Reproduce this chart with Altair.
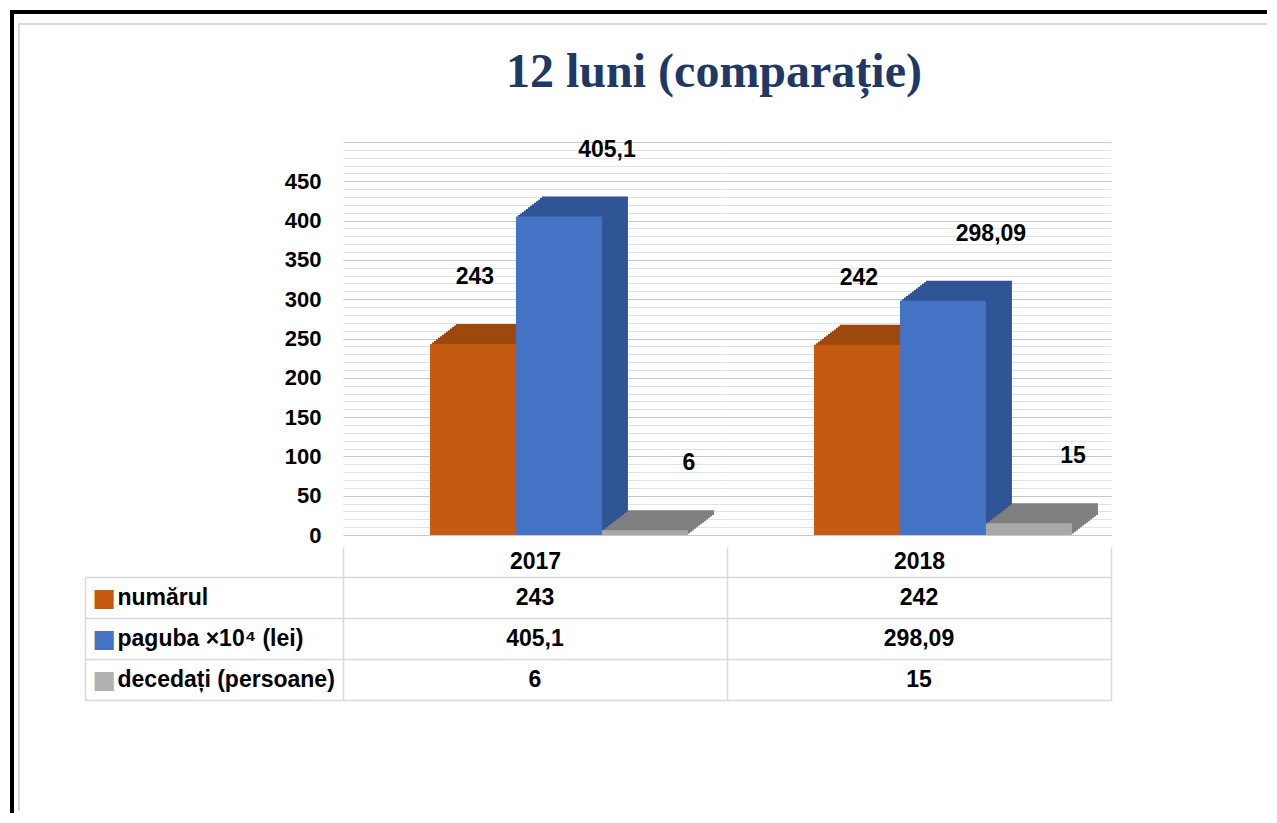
import altair as alt
import pandas as pd

# ---------------- data ----------------
years = ["2017", "2018"]
series = ["numărul", "paguba ×10⁴ (lei)", "decedați (persoane)"]
numarul = [243, 242]
paguba = [405.1, 298.09]
decedati = [6, 15]
title_text = "12 luni (comparație)"

# ---------------- styles ----------------
FONT = "Liberation Sans"
GRID = "#D9D9D9"
front_colors = ["#C55A11", "#4472C4", "#A8A8A8"]
depth_colors = ["#9C480E", "#2F5597", "#7F7F7F"]
legend_colors = ["#C55A11", "#4472C4", "#B0B0B0"]
label_dx = [2, 48, 44]
N_STEPS = 13
STEP_X = 2.0
STEP_Y = 1.54


def fmt(v):
    return f"{v:g}".replace(".", ",")


rows = []
for s, vals in zip(series, [numarul, paguba, decedati]):
    for yr, v in zip(years, vals):
        rows.append({"year": yr, "series": s, "value": v, "label": fmt(v)})
df = pd.DataFrame(rows)

# ---------------- bar chart (faceted by year) ----------------
X = alt.X(
    "series:N",
    sort=series,
    scale=alt.Scale(domain=series, paddingInner=0, paddingOuter=0.733, align=0.69),
    axis=None,
)
yaxis = alt.Axis(
    values=list(range(0, 501, 10)),
    labelExpr="(datum.value % 50 === 0 && datum.value <= 450) ? datum.label : ''",
    labelOverlap=False,
    grid=True,
    gridColor={"condition": {"test": "datum.value % 50 === 0", "value": "#C8C8C8"}, "value": "#E2E2E2"},
    gridWidth=1,
    ticks=False,
    domain=False,
    labelFont=FONT,
    labelFontSize=22,
    labelFontWeight="bold",
    labelColor="black",
    labelPadding=22,
    minExtent=323,
    maxExtent=323,
    title=None,
)
Y = alt.Y("value:Q", scale=alt.Scale(domain=[0, 500], nice=False, zero=True), axis=yaxis)

layers = []
for i, s in enumerate(series):
    flt = alt.datum.series == s
    for k in range(N_STEPS, 0, -1):
        layers.append(
            alt.Chart()
            .mark_bar(
                color=depth_colors[i],
                xOffset=k * STEP_X,
                x2Offset=k * STEP_X,
                yOffset=-k * STEP_Y,
                y2Offset=-k * STEP_Y,
            )
            .encode(x=X, y=Y)
            .transform_filter(flt)
        )
    layers.append(
        alt.Chart().mark_bar(color=front_colors[i]).encode(x=X, y=Y).transform_filter(flt)
    )
for i, s in enumerate(series):
    layers.append(
        alt.Chart()
        .mark_text(font=FONT, fontSize=23, fontWeight="bold", color="black", dx=label_dx[i], dy=-67)
        .encode(x=X, y=Y, text="label:N")
        .transform_filter(alt.datum.series == s)
    )

bars = (
    alt.layer(*layers)
    .properties(width=384, height=393)
    .facet(column=alt.Column("year:N", sort=years, header=None), data=df, spacing=0)
)

# ---------------- data table ----------------
xaxis_top = alt.Axis(
    orient="top",
    tickBand="extent",
    tickSize=30,
    tickColor=GRID,
    tickWidth=1.5,
    domain=False,
    grid=True,
    gridColor=GRID,
    gridWidth=1.5,
    labelFont=FONT,
    labelFontSize=23,
    labelFontWeight="bold",
    labelColor="black",
    labelAngle=0,
    labelPadding=-14,
    labelBaseline="middle",
    maxExtent=30,
    title=None,
)
XT = alt.X("year:N", sort=years, scale=alt.Scale(domain=years, paddingInner=0, paddingOuter=0), axis=xaxis_top)

yaxis1 = alt.Axis(
    orient="left",
    tickBand="extent",
    tickSize=258,
    tickColor=GRID,
    tickWidth=1.5,
    domain=False,
    grid=True,
    gridColor=GRID,
    gridWidth=1.5,
    labelFont=FONT,
    labelFontSize=23,
    labelFontWeight="bold",
    labelColor="black",
    labelAlign="left",
    labelBaseline="middle",
    labelPadding=-32,
    labelLimit=400,
    minExtent=323,
    maxExtent=323,
    title=None,
)
yaxis2 = alt.Axis(
    orient="left",
    offset=258,
    domain=True,
    domainColor=GRID,
    domainWidth=1.5,
    ticks=False,
    grid=False,
    labelExpr="'■'",
    labelFont="DejaVu Sans",
    labelFontSize=25,
    labelColor={
        "condition": [
            {"test": f"datum.value === '{series[0]}'", "value": legend_colors[0]},
            {"test": f"datum.value === '{series[1]}'", "value": legend_colors[1]},
        ],
        "value": legend_colors[2],
    },
    labelAlign="left",
    labelBaseline="middle",
    labelPadding=-7,
    maxExtent=60,
    title=None,
)
YSC = alt.Scale(domain=series, paddingInner=0, paddingOuter=0)
t1 = (
    alt.Chart()
    .mark_text(font=FONT, fontSize=23, fontWeight="bold", color="black")
    .encode(x=XT, y=alt.Y("series:N", sort=series, scale=YSC, axis=yaxis1), text="label:N")
)
t2 = (
    alt.Chart()
    .mark_text(font=FONT, fontSize=23, opacity=0)
    .encode(x=XT, y=alt.Y("series:N", sort=series, scale=YSC, axis=yaxis2), text="label:N")
)
table = (
    alt.layer(t1, t2, data=df)
    .resolve_scale(y="independent")
    .resolve_axis(y="independent")
    .properties(width=768, height=123)
)

# ---------------- title (as its own row) ----------------
title_chart = (
    alt.Chart(pd.DataFrame({"t": [title_text]}))
    .mark_text(font="Liberation Serif", fontSize=48, fontWeight="bold", color="#203864", dy=-5)
    .encode(text="t:N")
    .properties(width=742, height=106)
)

inner = alt.vconcat(title_chart, bars, table, spacing=0)

# ---------------- page frame ----------------
frame_df = pd.DataFrame({"f": [0]})


def frame_piece(w, h, color, opacity=1.0):
    return (
        alt.Chart(frame_df)
        .mark_rect(color=color, opacity=opacity)
        .encode(x=alt.value(0), x2=alt.value("width"), y=alt.value(0), y2=alt.value("height"))
        .properties(width=w, height=h)
    )


topblack = frame_piece(1257, 4, "black")
leftblack = frame_piece(4, 799, "black")
spacer = frame_piece(1249, 9, "white", 0.0)
graytop = frame_piece(1249, 2, "#DADADA")
grayleft = frame_piece(2, 786, "#DADADA")

body3 = alt.hconcat(grayleft, inner, spacing=0)
body2 = alt.vconcat(spacer, graytop, body3, spacing=0)
body1 = alt.hconcat(leftblack, body2, spacing=4)

chart = (
    alt.vconcat(topblack, body1, spacing=0)
    .properties(padding={"left": 2, "top": 2, "right": 0, "bottom": 0}, background="white")
    .configure_view(strokeWidth=0)
)

chart.save("out.html", embed_options={"renderer": "svg", "actions": False})
